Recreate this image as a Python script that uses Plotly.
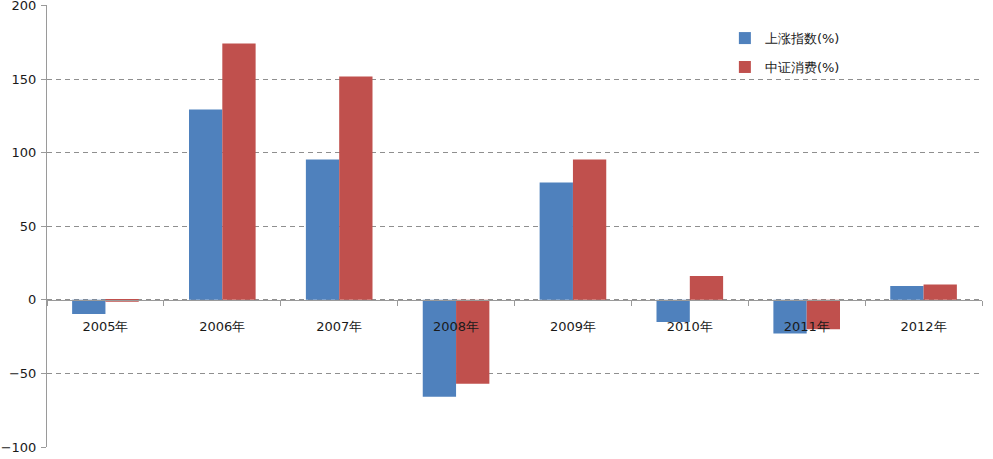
import plotly.graph_objects as go

categories = ["2005年", "2006年", "2007年", "2008年", "2009年", "2010年", "2011年", "2012年"]
shanghai = [-9.6, 129.4, 95.4, -65.9, 79.8, -15.0, -22.9, 9.4]
consumer = [-1.3, 174.2, 151.8, -57.0, 95.4, 16.2, -20.0, 10.4]
series_names = ["上涨指数(%)", "中证消费(%)"]
y_ticks = [-100, -50, 0, 50, 100, 150, 200]

font = "DejaVu Sans"
grey = "#9a9a9a"

fig = go.Figure()
fig.add_trace(go.Bar(x=categories, y=shanghai, name=series_names[0],
                     marker=dict(color="#4F81BD", line=dict(width=0)),
                     legendgroup="a"))
fig.add_trace(go.Bar(x=categories, y=consumer, name=series_names[1],
                     marker=dict(color="#C0504D", line=dict(width=0)),
                     legendgroup="b"))

ymin, ymax = y_ticks[0], y_ticks[-1] + 0.4
fig.update_layout(
    width=993, height=459,
    margin=dict(l=47, r=11, t=5, b=12, autoexpand=False),
    paper_bgcolor="white", plot_bgcolor="white",
    barmode="group", bargap=0.43, bargroupgap=0,
    font=dict(family=font, size=13, color="#1a1a1a"),
    showlegend=True,
    legend=dict(x=0.725, y=0.959, xanchor="left", yanchor="top",
                bgcolor="rgba(0,0,0,0)", traceorder="grouped",
                tracegroupgap=9, font=dict(family=font, size=13)),
    xaxis=dict(
        type="category",
        anchor="free",
        position=(0 - ymin) / (ymax - ymin),
        automargin=False,
        showline=True, linecolor=grey, linewidth=1,
        ticks="outside", ticklen=5, tickcolor=grey, tickson="boundaries",
        showgrid=False,
        ticklabelstandoff=15,
        tickfont=dict(family=font, size=13, color="#1a1a1a"),
    ),
    yaxis=dict(
        range=[ymin, ymax],
        tickvals=y_ticks,
        automargin=False,
        ticklabeloverflow="allow",
        showline=True, linecolor=grey, linewidth=1,
        ticks="outside", ticklen=5, tickcolor=grey,
        showgrid=True, gridcolor="#8f8f8f", gridwidth=1, griddash="5px,4px",
        zeroline=False,
        tickfont=dict(family=font, size=13, color="#1a1a1a"),
        ticklabelstandoff=2,
    ),
)

fig.write_html("out.html", config={"displayModeBar": False},
               post_script="document.body.style.margin='0';document.body.style.overflow='hidden';")
